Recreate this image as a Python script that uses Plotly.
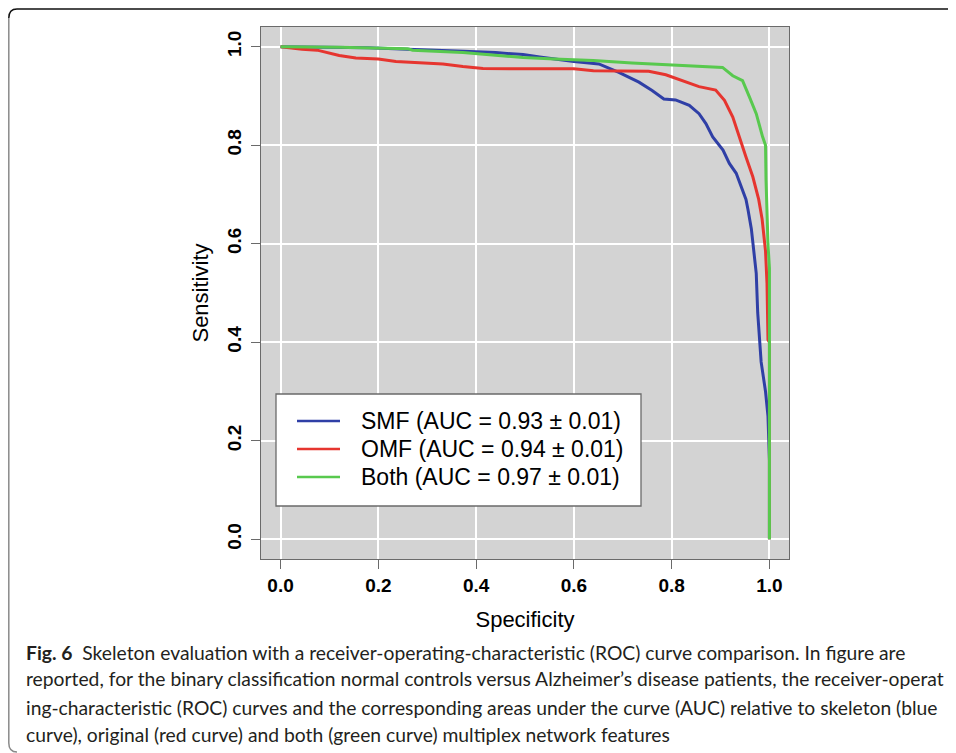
import plotly.graph_objects as go

# ---------------- data ----------------
smf_spec = [0.0, 0.18, 0.26, 0.30, 0.373, 0.44, 0.496, 0.53, 0.56, 0.60, 0.651, 0.692,
            0.733, 0.76, 0.784, 0.808, 0.836, 0.856, 0.87, 0.884, 0.905, 0.918, 0.932,
            0.945, 0.952, 0.956, 0.963, 0.973, 0.976, 0.983, 0.992, 0.997, 0.998, 1.0, 1.0]
smf_sens = [1.0, 0.998, 0.995, 0.994, 0.991, 0.988, 0.984, 0.979, 0.975, 0.970, 0.965, 0.948,
            0.928, 0.911, 0.894, 0.892, 0.881, 0.864, 0.844, 0.817, 0.790, 0.763, 0.743,
            0.709, 0.690, 0.670, 0.630, 0.540, 0.460, 0.360, 0.300, 0.250, 0.200, 0.160, 0.0]

omf_spec = [0.0, 0.044, 0.075, 0.092, 0.12, 0.154, 0.2, 0.236, 0.277, 0.332, 0.373, 0.414,
            0.496, 0.6, 0.64, 0.70, 0.753, 0.788, 0.822, 0.856, 0.89, 0.908, 0.925, 0.938,
            0.952, 0.966, 0.978, 0.985, 0.992, 0.995, 0.997, 1.0, 1.0]
omf_sens = [1.0, 0.995, 0.993, 0.989, 0.982, 0.977, 0.975, 0.970, 0.968, 0.965, 0.960, 0.956,
            0.955, 0.955, 0.951, 0.951, 0.950, 0.943, 0.931, 0.919, 0.912, 0.891, 0.857, 0.817,
            0.776, 0.736, 0.690, 0.650, 0.585, 0.520, 0.405, 0.400, 0.0]

both_spec = [0.0, 0.12, 0.26, 0.27, 0.373, 0.44, 0.496, 0.56, 0.64, 0.719, 0.788, 0.856,
             0.904, 0.925, 0.945, 0.959, 0.973, 0.986, 0.992, 0.993, 0.995, 0.997, 1.0, 1.0]
both_sens = [1.0, 0.999, 0.996, 0.993, 0.988, 0.983, 0.978, 0.975, 0.972, 0.967, 0.964, 0.961,
             0.958, 0.941, 0.931, 0.898, 0.864, 0.817, 0.800, 0.730, 0.650, 0.600, 0.550, 0.0]

series_names = ["SMF (AUC = 0.93 ± 0.01)", "OMF (AUC = 0.94 ± 0.01)", "Both (AUC = 0.97 ± 0.01)"]
series_colors = ["#2f3fa6", "#e6352f", "#58c94e"]

tick_vals = [0.0, 0.2, 0.4, 0.6, 0.8, 1.0]
tick_text = ["0.0", "0.2", "0.4", "0.6", "0.8", "1.0"]

x_title = "Specificity"
y_title = "Sensitivity"

caption_lines = [
    "<b>Fig. 6</b>  Skeleton evaluation with a receiver-operating-characteristic (ROC) curve comparison. In figure are",
    "reported, for the binary classification normal controls versus Alzheimer’s disease patients, the receiver-operat",
    "ing-characteristic (ROC) curves and the corresponding areas under the curve (AUC) relative to skeleton (blue",
    "curve), original (red curve) and both (green curve) multiplex network features",
]

# ---------------- layout geometry ----------------
# the page body adds an 8px margin, so the figure is placed at (8, 8) in the window
OFF = 8
W, H = 956 - OFF, 753 - OFF
PLOT_L, PLOT_R, PLOT_T, PLOT_B = 261, 789, 27, 559      # window pixels of the plot box
L, T = PLOT_L - OFF, PLOT_T - OFF
R, B = W - (PLOT_R - OFF), H - (PLOT_B - OFF)
PW, PH = W - L - R, H - T - B


def px(x):
    """window x pixel -> paper coordinate"""
    return (x - OFF - L) / PW


def py(y):
    """window y pixel -> paper coordinate"""
    return (H - B - (y - OFF)) / PH


FONT = "Liberation Sans, Arial, Helvetica, sans-serif"
CAP_FONT = "Lato, Open Sans, sans-serif"

fig = go.Figure()
for xs, ys, name, col in zip([smf_spec, omf_spec, both_spec], [smf_sens, omf_sens, both_sens],
                             series_names, series_colors):
    fig.add_trace(go.Scatter(x=xs, y=ys, mode="lines", name=name,
                             line=dict(color=col, width=3), showlegend=False))

axis_common = dict(
    range=[-0.04, 1.04], tickvals=tick_vals, ticktext=tick_text,
    showgrid=True, gridcolor="white", gridwidth=1.8, zeroline=False,
    showline=True, mirror=True, linecolor="#6a6a6a", linewidth=1.3,
    ticks="outside", ticklen=9, tickwidth=1.3, tickcolor="#6a6a6a",
    tickfont=dict(family=FONT, size=19, color="black", weight="bold"),
    fixedrange=True,
)

fig.update_layout(
    width=W, height=H,
    margin=dict(l=L, r=R, t=T, b=B, autoexpand=False),
    paper_bgcolor="white", plot_bgcolor="#d3d3d3",
    xaxis=dict(**axis_common, ticklabelstandoff=0,
               title=dict(text=x_title, font=dict(family=FONT, size=22, color="black"), standoff=16)),
    yaxis=dict(**axis_common, tickangle=-90, ticklabelstandoff=2,
               title=dict(text=y_title, font=dict(family=FONT, size=22, color="black"), standoff=9)),
    showlegend=False,
)

# ---------------- legend (drawn as a box with sample lines + text) ----------------
leg_left, leg_right, leg_top, leg_bottom = 276, 641, 394, 506
fig.add_shape(type="rect", xref="paper", yref="paper",
              x0=px(leg_left), x1=px(leg_right), y0=py(leg_bottom), y1=py(leg_top),
              fillcolor="white", line=dict(color="#6a6a6a", width=1.3), layer="above")
row_y = [421, 449, 477]
for name, col, ry in zip(series_names, series_colors, row_y):
    fig.add_shape(type="line", xref="paper", yref="paper",
                  x0=px(297), x1=px(340), y0=py(ry), y1=py(ry),
                  line=dict(color=col, width=2.5), layer="above")
    fig.add_annotation(xref="paper", yref="paper", x=px(359), y=py(ry),
                       text=name, showarrow=False, xanchor="left", yanchor="middle",
                       font=dict(family=FONT, size=23, color="black"))

# ---------------- caption ----------------
cap_y = [652, 679, 707, 734]
for line, cy in zip(caption_lines, cap_y):
    fig.add_annotation(xref="paper", yref="paper", x=px(24), y=py(cy),
                       text=line, showarrow=False, xanchor="left", yanchor="middle",
                       font=dict(family=CAP_FONT, size=19.3, color="#231f20"))

# ---------------- outer frame (rounded) ----------------
fig.add_shape(type="path", xref="paper", yref="paper",
              path=f"M {px(970)},{py(9)} L {px(17)},{py(9)} Q {px(8.8)},{py(9)} {px(8.8)},{py(18)}",
              line=dict(color="#111111", width=1.5))
fig.add_shape(type="path", xref="paper", yref="paper",
              path=f"M {px(8.8)},{py(18)} L {px(8.8)},{py(743)} Q {px(8.8)},{py(752)} {px(17)},{py(752)}",
              line=dict(color="#8a8a8a", width=1.5))

fig.write_html("out.html")
